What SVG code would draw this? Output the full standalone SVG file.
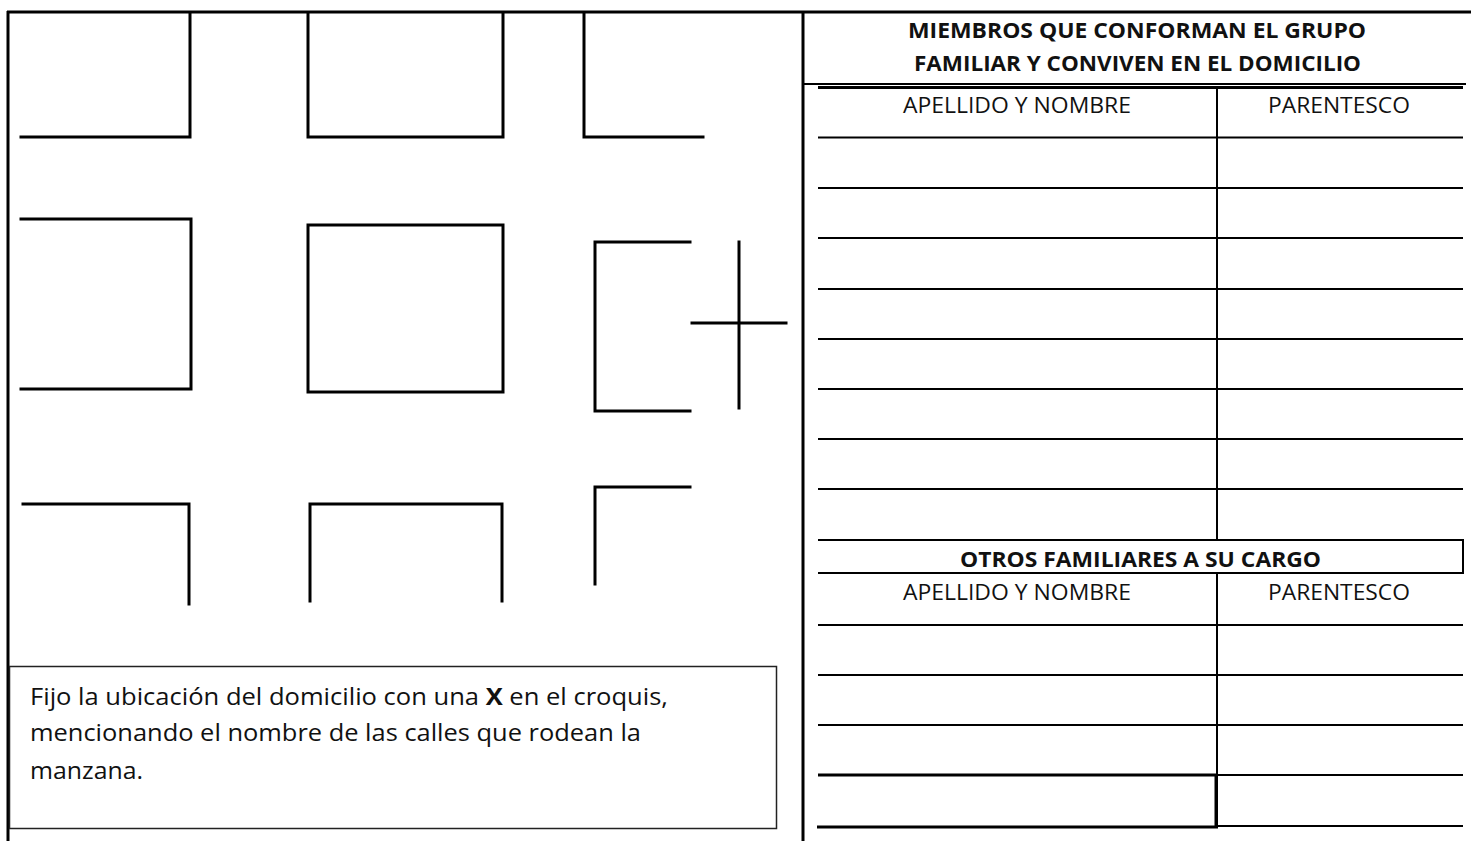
<svg xmlns="http://www.w3.org/2000/svg" width="1471" height="841" viewBox="0 0 1471 841">
<style>
.m{stroke:#000;stroke-width:3;fill:none;stroke-linecap:square}
.t{stroke:#000;stroke-width:2;fill:none}
.tk{stroke:#000;stroke-width:3;fill:none}
text{font-family:"Open Sans","Liberation Sans",sans-serif;fill:#111}
.h{font-size:22px;font-weight:bold;text-anchor:middle}
.c{font-size:22px;text-anchor:middle}
.p{font-size:24px}
</style>
<rect width="1471" height="841" fill="#fff"/>
<g id="frame">
<line class="tk" x1="7" y1="12" x2="1471" y2="12"/>
<line class="tk" x1="8" y1="11" x2="8" y2="841"/>
<line class="tk" x1="803" y1="11" x2="803" y2="841"/>
</g>
<g id="map">
<polyline class="m" points="21,137 190,137 190,13"/>
<polyline class="m" points="308,13 308,137 503,137 503,13"/>
<polyline class="m" points="584,13 584,137 703,137"/>
<polyline class="m" points="21,219 191,219 191,389 21,389"/>
<rect class="m" x="308" y="225" width="195" height="167"/>
<polyline class="m" points="690,242 595,242 595,411 690,411"/>
<line class="m" x1="739" y1="242" x2="739" y2="408"/>
<line class="m" x1="692" y1="323" x2="786" y2="323"/>
<polyline class="m" points="23,504 189,504 189,604"/>
<polyline class="m" points="310,601 310,504 502,504 502,601"/>
<polyline class="m" points="595,584 595,487 690,487"/>
</g>
<g id="note">
<rect x="9.5" y="666.5" width="767" height="162" fill="none" stroke="#222" stroke-width="1.5"/>
<text class="p" x="30" y="705" textLength="638" lengthAdjust="spacingAndGlyphs">Fijo la ubicación del domicilio con una <tspan font-weight="bold">X</tspan> en el croquis,</text>
<text class="p" x="30" y="741" textLength="611" lengthAdjust="spacingAndGlyphs">mencionando el nombre de las calles que rodean la</text>
<text class="p" x="30" y="779" textLength="113" lengthAdjust="spacingAndGlyphs">manzana.</text>
</g>
<g id="header">
<text class="h" x="1137" y="38" textLength="458" lengthAdjust="spacingAndGlyphs">MIEMBROS QUE CONFORMAN EL GRUPO</text>
<text class="h" x="1137.5" y="71" textLength="447" lengthAdjust="spacingAndGlyphs">FAMILIAR Y CONVIVEN EN EL DOMICILIO</text>
<line class="t" x1="803" y1="84" x2="1466" y2="84"/>
</g>
<g id="table1">
<line class="tk" x1="818" y1="87.5" x2="1463" y2="87.5"/>
<line class="t" x1="1217" y1="87" x2="1217" y2="540"/>
<text class="c" x="1017" y="113" textLength="228" lengthAdjust="spacingAndGlyphs">APELLIDO Y NOMBRE</text>
<text class="c" x="1339" y="113" textLength="142" lengthAdjust="spacingAndGlyphs">PARENTESCO</text>
<line class="t" x1="818" y1="137.5" x2="1463" y2="137.5"/>
<line class="t" x1="818" y1="188" x2="1463" y2="188"/>
<line class="t" x1="818" y1="238" x2="1463" y2="238"/>
<line class="t" x1="818" y1="289" x2="1463" y2="289"/>
<line class="t" x1="818" y1="339" x2="1463" y2="339"/>
<line class="t" x1="818" y1="389" x2="1463" y2="389"/>
<line class="t" x1="818" y1="439" x2="1463" y2="439"/>
<line class="t" x1="818" y1="489" x2="1463" y2="489"/>
</g>
<g id="table2">
<polyline class="t" points="818,540 1463,540 1463,573 818,573"/>
<text class="h" x="1140.5" y="567" textLength="361" lengthAdjust="spacingAndGlyphs">OTROS FAMILIARES A SU CARGO</text>
<line class="t" x1="1217" y1="573" x2="1217" y2="827"/>
<text class="c" x="1017" y="600" textLength="228" lengthAdjust="spacingAndGlyphs">APELLIDO Y NOMBRE</text>
<text class="c" x="1339" y="600" textLength="142" lengthAdjust="spacingAndGlyphs">PARENTESCO</text>
<line class="t" x1="818" y1="625" x2="1463" y2="625"/>
<line class="t" x1="818" y1="675" x2="1463" y2="675"/>
<line class="t" x1="818" y1="725" x2="1463" y2="725"/>
<line class="tk" x1="818" y1="775" x2="1217" y2="775"/>
<line class="t" x1="1217" y1="775" x2="1463" y2="775"/>
<line class="tk" x1="1216" y1="775" x2="1216" y2="827"/>
<line class="tk" x1="817" y1="827" x2="1218" y2="827"/>
<line class="t" x1="1217" y1="826" x2="1463" y2="826"/>
</g>
</svg>
